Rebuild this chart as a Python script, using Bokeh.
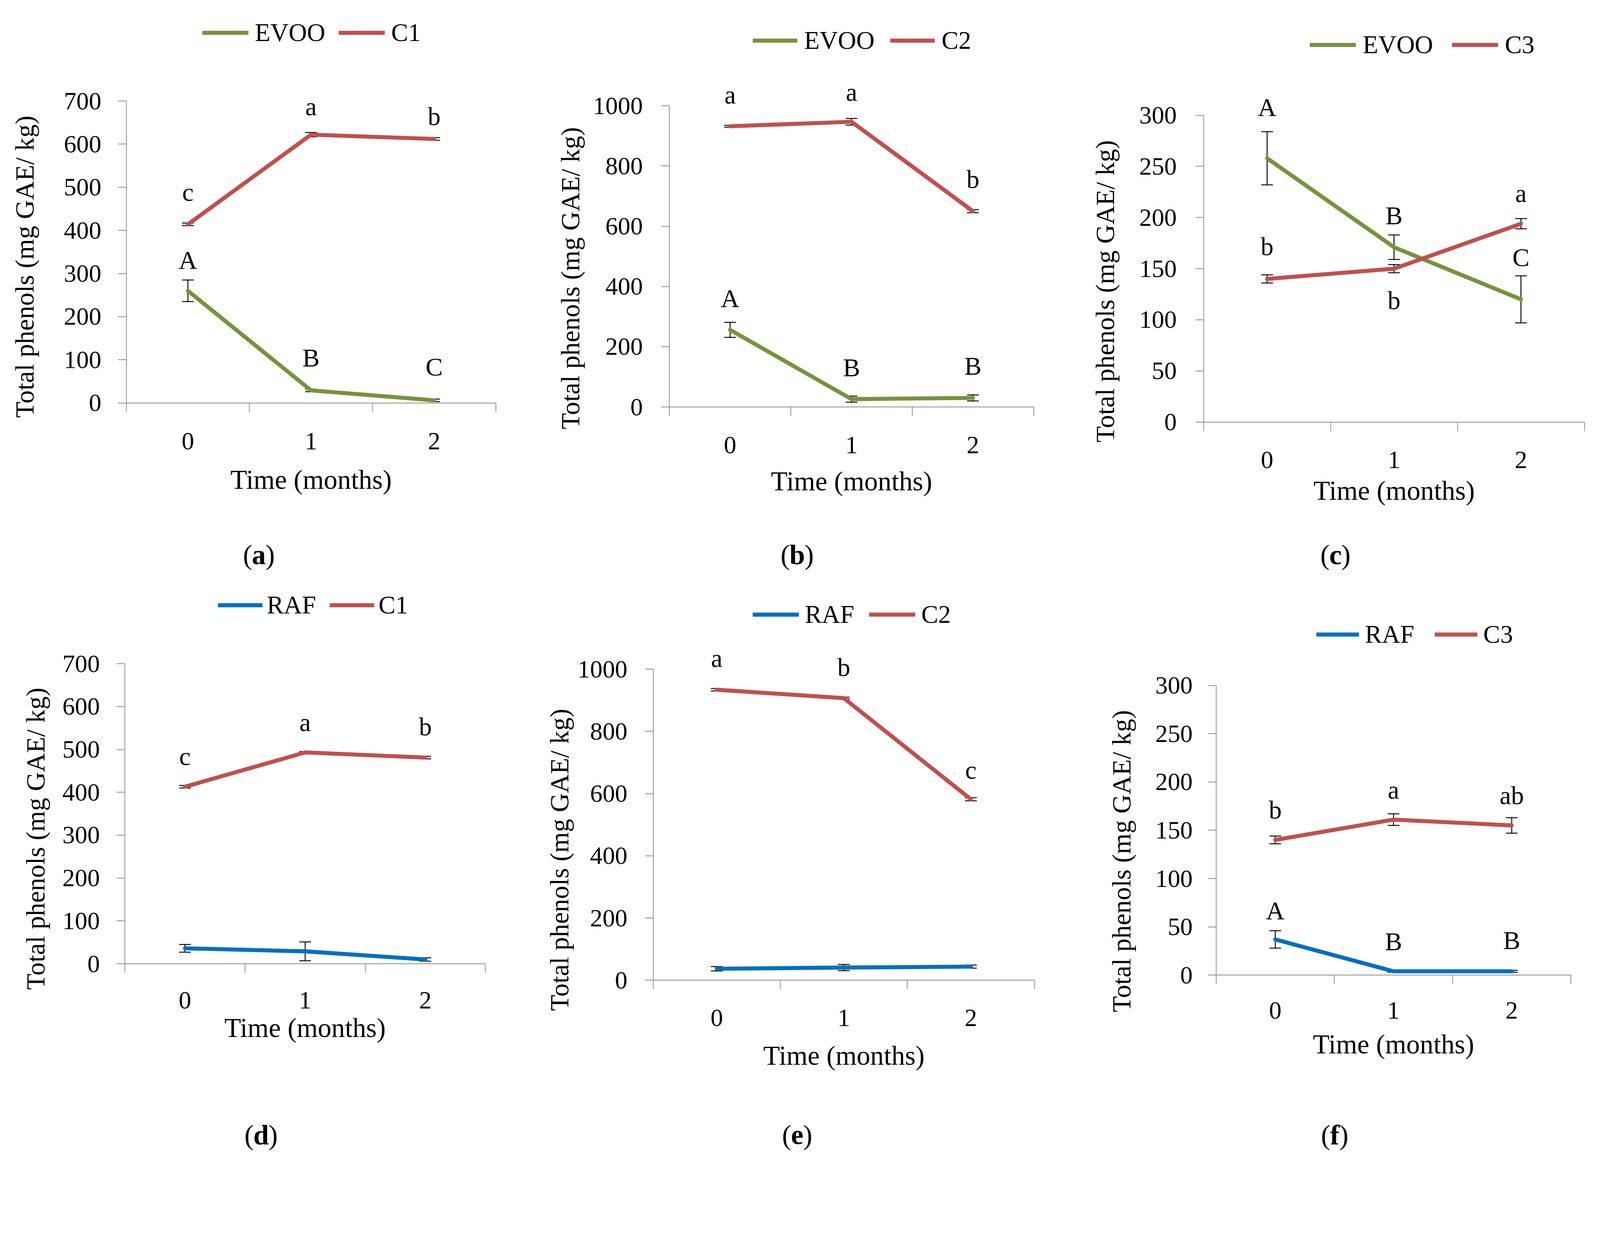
from bokeh.plotting import figure
from bokeh.models import (Range1d, FixedTicker, Legend, LegendItem, Label, LabelSet,
                          ColumnDataSource, Whisker, TeeHead, LinearAxis)
from bokeh.layouts import gridplot
from bokeh.core.properties import value
from bokeh.embed import file_html
from bokeh.resources import INLINE

months = [0, 1, 2]
month_labels = ["0", "1", "2"]
x_label = "Time (months)"
y_label = "Total phenols (mg GAE/ kg)"

# (a) EVOO vs C1
a_names = ["EVOO", "C1"]
a_s1 = [260, 29, 6]
a_s1_err = [25, 3, 3]
a_s1_letters = ["A", "B", "C"]
a_s1_letter_y = [331, 105, 84]
a_s2 = [414, 622, 612]
a_s2_err = [3, 5, 3]
a_s2_letters = ["c", "a", "b"]
a_s2_letter_y = [489, 687, 665]

# (b) EVOO vs C2
b_names = ["EVOO", "C2"]
b_s1 = [256, 26, 30]
b_s1_err = [25, 10, 10]
b_s1_letters = ["A", "B", "B"]
b_s1_letter_y = [361, 131, 136]
b_s2 = [932, 947, 650]
b_s2_err = [3, 11, 5]
b_s2_letters = ["a", "a", "b"]
b_s2_letter_y = [1037, 1046, 756]

# (c) EVOO vs C3
c_names = ["EVOO", "C3"]
c_s1 = [258, 171, 120]
c_s1_err = [26, 12, 23]
c_s1_letters = ["A", "B", "C"]
c_s1_letter_y = [308, 202, 161]
c_s2 = [140, 150, 194]
c_s2_err = [4, 4, 5]
c_s2_letters = ["b", "b", "a"]
c_s2_letter_y = [172, 119, 224]

# (d) RAF vs C1
d_names = ["RAF", "C1"]
d_s1 = [36, 29, 10]
d_s1_err = [9, 22, 4]
d_s1_letters = []
d_s1_letter_y = []
d_s2 = [413, 493, 481]
d_s2_err = [3, 2, 3]
d_s2_letters = ["c", "a", "b"]
d_s2_letter_y = [484, 563, 553]

# (e) RAF vs C2
e_names = ["RAF", "C2"]
e_s1 = [37, 41, 44]
e_s1_err = [7, 10, 5]
e_s1_letters = []
e_s1_letter_y = []
e_s2 = [934, 907, 582]
e_s2_err = [4, 3, 5]
e_s2_letters = ["a", "b", "c"]
e_s2_letter_y = [1035, 1006, 676]

# (f) RAF vs C3
f_names = ["RAF", "C3"]
f_s1 = [37, 4, 4]
f_s1_err = [9, 1, 1]
f_s1_letters = ["A", "B", "B"]
f_s1_letter_y = [67, 35, 36]
f_s2 = [140, 161, 155]
f_s2_err = [4, 6, 8]
f_s2_letters = ["b", "a", "ab"]
f_s2_letter_y = [171, 192, 186]

GREEN = "#77933C"
RED = "#C0504D"
BLUE = "#0070C0"
AXIS_GRAY = "#898989"
FONT = "Liberation Serif"

# global pixel scale (reference px -> css px)
K = 0.94
Wc, Hc = int(round(1450 * K)), int(round(1578 * K))
Wr, Hr = Wc / K, Hc / K


def px(v):
    return v * K


def ipx(v):
    return int(round(v * K))


def fs(v):
    return "%.1fpx" % (v * K)


# layout geometry in reference-panel pixels
geom = {
    "a": dict(frame=(352, 1358, 283, 1105), leg=(560, 97, 126, 17, 229), tick_so=57, xlab_so=37,
              ytick_so=46, ylab_so=67, ylab_c=316, cap=(713, 1518)),
    "b": dict(frame=(375, 1367, 296, 1116), leg=(602, 119, 121, 19, 234), tick_so=56, xlab_so=32,
              ytick_so=50, ylab_so=22, ylab_c=427, cap=(723, 1518)),
    "c": dict(frame=(374, 1411, 322, 1157), leg=(663, 130, 125, 19, 243), tick_so=56, xlab_so=16,
              ytick_so=51, ylab_so=54, ylab_c=128, cap=(733, 1518)),
    "d": dict(frame=(348, 1330, 230, 1047), leg=(602, 71, 121, 12, 171), tick_so=52, xlab_so=9,
              ytick_so=46, ylab_so=33, ylab_c=292, cap=(719, 1513)),
    "e": dict(frame=(331, 1369, 245, 1092), leg=(602, 96, 126, 17, 175), tick_so=55, xlab_so=36,
              ytick_so=48, ylab_so=10, ylab_c=387, cap=(723, 1513)),
    "f": dict(frame=(408, 1374, 289, 1078), leg=(682, 150, 116, 16, 190), tick_so=49, xlab_so=26,
              ytick_so=42, ylab_so=52, ylab_c=118, cap=(731, 1513)),
}
cap_half = {"a": 18, "b": 20, "c": 16, "d": 20, "e": 16, "f": 12}


def make_panel(key, col, row, names, colors, s1, e1, l1, ly1, s2, e2, l2, ly2, ymax, ystep):
    g = geom[key]
    ox = (8 + col * Wc) / K - 1456 * col
    oy = (8 + row * Hc) / K - 1585 * row
    FL, FR, FT, FB = g["frame"]
    FL, FR, FT, FB = FL - ox, FR - ox, FT - oy, FB - oy
    sx = 3.0 / (FR - FL)
    sy = ymax / (FB - FT)
    x0 = -0.5 - FL * sx
    y0 = -(Hr - FB) * sy
    p = figure(width=Wc, height=Hc,
               x_range=Range1d(x0, x0 + Wr * sx), y_range=Range1d(y0, y0 + Hr * sy),
               output_backend="svg", toolbar_location=None, min_border=0)
    p.outline_line_color = None
    p.grid.visible = False
    p.background_fill_color = "white"
    p.border_fill_color = "white"

    xa = p.xaxis[0]
    xa.fixed_location = 0
    xa.bounds = (-0.5, 2.5)
    xa.ticker = FixedTicker(ticks=months, minor_ticks=[-0.5, 0.5, 1.5, 2.5])
    xa.major_label_overrides = {m: lab for m, lab in zip(months, month_labels)}
    xa.major_tick_out = 0
    xa.major_tick_in = 0
    xa.minor_tick_out = ipx(24)
    xa.minor_tick_in = 0
    xa.minor_tick_line_color = AXIS_GRAY
    xa.minor_tick_line_width = px(2)
    xa.axis_line_color = AXIS_GRAY
    xa.axis_line_width = px(2)
    xa.major_label_text_font = FONT
    xa.major_label_text_font_size = fs(68)
    xa.major_label_text_color = "black"
    xa.major_label_standoff = ipx(g["tick_so"])
    xa.axis_label = x_label
    xa.axis_label_text_font = FONT
    xa.axis_label_text_font_size = fs(74)
    xa.axis_label_text_font_style = "normal"
    xa.axis_label_text_color = "black"
    xa.axis_label_standoff = ipx(g["xlab_so"])

    ya = p.yaxis[0]
    ya.fixed_location = -0.5
    ya.bounds = (0, ymax)
    ya.ticker = FixedTicker(ticks=list(range(0, ymax + 1, ystep)), minor_ticks=[])
    ya.major_tick_out = ipx(22)
    ya.major_tick_in = 0
    ya.major_tick_line_color = AXIS_GRAY
    ya.major_tick_line_width = px(2)
    ya.minor_tick_out = 0
    ya.minor_tick_in = 0
    ya.minor_tick_line_color = None
    ya.axis_line_color = AXIS_GRAY
    ya.axis_line_width = px(2)
    ya.major_label_text_font = FONT
    ya.major_label_text_font_size = fs(68)
    ya.major_label_text_color = "black"
    ya.major_label_standoff = ipx(g["ytick_so"])

    # y title carried by a label-only axis so it can sit below the frame centre
    ndig = len(str(ymax))
    lab_w = ndig * 0.5 * 68
    yc = g["ylab_c"]
    ylab_axis = LinearAxis(fixed_location=-0.5, bounds=(yc - ystep * 0.1, yc + ystep * 0.1),
                           ticker=FixedTicker(ticks=[], minor_ticks=[]),
                           axis_line_color=None, major_tick_line_color=None,
                           minor_tick_line_color=None, major_tick_out=0, major_tick_in=0,
                           minor_tick_out=0, minor_tick_in=0,
                           major_label_text_alpha=0,
                           axis_label=y_label, axis_label_text_font=FONT,
                           axis_label_text_font_size=fs(72),
                           axis_label_text_font_style="normal",
                           axis_label_text_color="black",
                           axis_label_standoff=ipx(22 + g["ytick_so"] + lab_w + g["ylab_so"]))
    p.add_layout(ylab_axis, "left")

    rends = []
    for s, e, c in ((s1, e1, colors[0]), (s2, e2, colors[1])):
        r = p.line(months, s, line_width=px(11), line_color=c, line_cap="round",
                   line_join="round")
        rends.append(r)
        src = ColumnDataSource(dict(x=months,
                                    upper=[v + d for v, d in zip(s, e)],
                                    lower=[v - d for v, d in zip(s, e)]))
        w = Whisker(source=src, base="x", upper="upper", lower="lower", dimension="height",
                    line_color="black", line_width=px(2.5),
                    upper_head=TeeHead(size=px(32), line_color="black", line_width=px(2.5)),
                    lower_head=TeeHead(size=px(32), line_color="black", line_width=px(2.5)))
        p.add_layout(w)

    for lets, ly in ((l1, ly1), (l2, ly2)):
        if not lets:
            continue
        lsrc = ColumnDataSource(dict(x=months[:len(lets)], y=ly, text=lets))
        p.add_layout(LabelSet(x="x", y="y", text="text", source=lsrc,
                              text_align="center", text_baseline="middle",
                              text_font=value(FONT), text_font_size=value(fs(70)),
                              text_color="black"))

    lx0, lyc, gw, lstand, lw = g["leg"]
    leg_h = 80
    legend = Legend(items=[LegendItem(label=names[0], renderers=[rends[0]]),
                           LegendItem(label=names[1], renderers=[rends[1]])],
                    orientation="horizontal",
                    location=(px(lx0 - ox), px(Hr - (lyc - oy) - leg_h / 2)),
                    padding=0, margin=0, spacing=0,
                    glyph_width=ipx(gw), glyph_height=ipx(leg_h),
                    label_height=ipx(leg_h), label_width=ipx(lw),
                    label_standoff=ipx(lstand),
                    border_line_color=None, background_fill_alpha=0,
                    label_text_font=FONT, label_text_font_size=fs(69),
                    label_text_color="black")
    p.add_layout(legend)

    cx, cy = g["cap"]
    cxr = px(cx - ox)
    cyr = px(Hr - (cy - oy))
    hw = px(cap_half[key])
    for txt, dxx, align, style in (("(", -hw, "right", "normal"), (key, 0, "center", "bold"),
                                   (")", hw, "left", "normal")):
        p.add_layout(Label(x=cxr + dxx, y=cyr, x_units="screen", y_units="screen", text=txt,
                           text_align=align, text_baseline="middle", text_font=FONT,
                           text_font_size=fs(76), text_font_style=style, text_color="black"))
    return p


pa = make_panel("a", 0, 0, a_names, (GREEN, RED), a_s1, a_s1_err, a_s1_letters, a_s1_letter_y,
                a_s2, a_s2_err, a_s2_letters, a_s2_letter_y, 700, 100)
pb = make_panel("b", 1, 0, b_names, (GREEN, RED), b_s1, b_s1_err, b_s1_letters, b_s1_letter_y,
                b_s2, b_s2_err, b_s2_letters, b_s2_letter_y, 1000, 200)
pc = make_panel("c", 2, 0, c_names, (GREEN, RED), c_s1, c_s1_err, c_s1_letters, c_s1_letter_y,
                c_s2, c_s2_err, c_s2_letters, c_s2_letter_y, 300, 50)
pd_ = make_panel("d", 0, 1, d_names, (BLUE, RED), d_s1, d_s1_err, d_s1_letters, d_s1_letter_y,
                 d_s2, d_s2_err, d_s2_letters, d_s2_letter_y, 700, 100)
pe = make_panel("e", 1, 1, e_names, (BLUE, RED), e_s1, e_s1_err, e_s1_letters, e_s1_letter_y,
                e_s2, e_s2_err, e_s2_letters, e_s2_letter_y, 1000, 200)
pf = make_panel("f", 2, 1, f_names, (BLUE, RED), f_s1, f_s1_err, f_s1_letters, f_s1_letter_y,
                f_s2, f_s2_err, f_s2_letters, f_s2_letter_y, 300, 50)

grid = gridplot([[pa, pb, pc], [pd_, pe, pf]], toolbar_location=None)

open("out.html", "w").write(file_html(grid, INLINE))
